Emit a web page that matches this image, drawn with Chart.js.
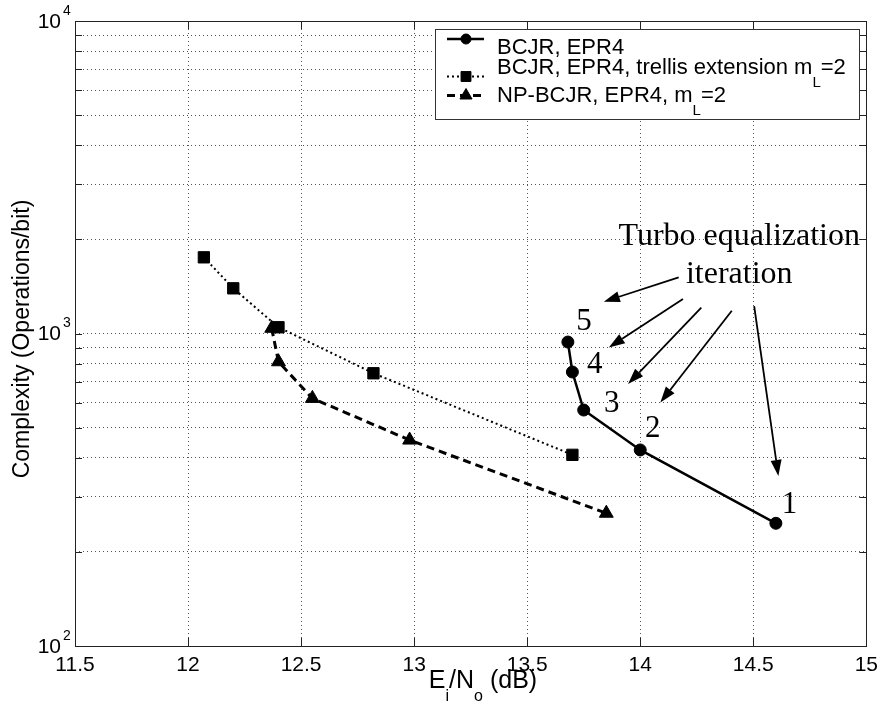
<!DOCTYPE html>
<html><head><meta charset="utf-8">
<script src="https://cdn.jsdelivr.net/npm/chart.js@4.4.1/dist/chart.umd.min.js"></script>
<style>html,body{margin:0;padding:0;background:#fff}#wrap{width:885px;height:712px}</style>
</head><body><div id="wrap"><canvas id="c" width="885" height="712"></canvas></div>
<script>
// ---- data ----
const bcjrX = [14.60, 14.00, 13.75, 13.70, 13.68];
const bcjrY = [247, 424, 569, 753, 939];
const trellisX = [12.07, 12.20, 12.40, 12.82, 13.70];
const trellisY = [1753, 1395, 1047, 746, 409];
const npX = [12.37, 12.40, 12.55, 12.98, 13.85];
const npY = [1039, 812, 620, 456, 266];
const seriesLabels = ['BCJR, EPR4', 'BCJR, EPR4, trellis extension m_L=2', 'NP-BCJR, EPR4, m_L=2'];
const xTicks = [11.5, 12, 12.5, 13, 13.5, 14, 14.5, 15];
const yTicks = [100,200,300,400,500,600,700,800,900,1000,2000,3000,4000,5000,6000,7000,8000,9000,10000];
const yLabelValues = [100, 1000, 10000];
const yLabelExps = ['2', '3', '4'];
const xTitleParts = ['E', '_i', '/N', '_o', ' (dB)'];
const yTitle = 'Complexity (Operations/bit)';
// annotations (data coordinates)
const noteLines = ['Turbo equalization', 'iteration'];
const noteX = [14.438, 14.438];
const noteY = [1920, 1451];
const iterLabels = ['1', '2', '3', '4', '5'];
const iterLabelX = [14.66, 14.055, 13.874, 13.799, 13.751];
const iterLabelY = [267, 468, 562, 747, 1026];
const arrowFromX = [14.170, 14.189, 14.270, 14.405, 14.504];
const arrowFromY = [1513, 1289, 1209, 1183, 1224];
const arrowToX = [13.839, 13.861, 13.946, 14.089, 14.611];
const arrowToY = [1264, 902, 689, 601, 350];

const SANS = '"Liberation Sans", Arial, Helvetica, sans-serif';
const SERIF = '"Liberation Serif", "Times New Roman", serif';

function pts(xs, ys) { return xs.map((x, i) => ({x: x, y: ys[i]})); }

function drawRich(ctx, parts, x, y, size, subSize, subDrop, align) {
  let w = 0;
  const items = parts.map(p => {
    const sub = p.startsWith('_');
    const t = sub ? p.slice(1) : p;
    ctx.font = (sub ? subSize : size) + 'px ' + SANS;
    const mw = ctx.measureText(t).width;
    w += mw;
    return {t, sub, mw};
  });
  let cx = align === 'center' ? x - w / 2 : x;
  ctx.textAlign = 'left';
  ctx.textBaseline = 'alphabetic';
  items.forEach(it => {
    ctx.font = (it.sub ? subSize : size) + 'px ' + SANS;
    ctx.fillText(it.t, cx, it.sub ? y + subDrop : y);
    cx += it.mw;
  });
}

function splitLabel(label) {
  const out = [];
  const re = /_(.)/g;
  let last = 0, m;
  while ((m = re.exec(label)) !== null) {
    if (m.index > last) out.push(label.slice(last, m.index));
    out.push('_' + m[1]);
    last = m.index + 2;
  }
  if (last < label.length) out.push(label.slice(last));
  return out;
}

const framePlugin = {
  id: 'frame',
  afterDraw(chart) {
    const {ctx, chartArea: a, scales: {x, y}} = chart;
    ctx.save();
    ctx.strokeStyle = '#222';
    ctx.lineWidth = 1;
    ctx.setLineDash([]);
    ctx.strokeRect(Math.round(a.left) + 0.5, Math.round(a.top) + 0.5, Math.round(a.right - a.left), Math.round(a.bottom - a.top));
    ctx.beginPath();
    x.ticks.forEach(t => {
      const px = Math.round(x.getPixelForValue(t.value)) + 0.5;
      ctx.moveTo(px, a.bottom); ctx.lineTo(px, a.bottom - 8);
      ctx.moveTo(px, a.top); ctx.lineTo(px, a.top + 8);
    });
    y.ticks.forEach(t => {
      const py = Math.round(y.getPixelForValue(t.value)) + 0.5;
      ctx.moveTo(a.left, py); ctx.lineTo(a.left + 7, py);
      ctx.moveTo(a.right, py); ctx.lineTo(a.right - 7, py);
    });
    ctx.stroke();
    ctx.fillStyle = '#000';
    yLabelValues.forEach((v, i) => {
      const py = y.getPixelForValue(v);
      ctx.font = '21px ' + SANS;
      ctx.textAlign = 'right';
      ctx.textBaseline = 'middle';
      ctx.fillText('10', a.left - 14, py + 1);
      ctx.font = '14px ' + SANS;
      ctx.textAlign = 'left';
      ctx.fillText(yLabelExps[i], a.left - 12, py - 10);
    });
    drawRich(ctx, xTitleParts, 483, 688, 25, 16, 13, 'center');
    ctx.save();
    ctx.translate(23, 339);
    ctx.rotate(-Math.PI / 2);
    ctx.font = '23px ' + SANS;
    ctx.textAlign = 'center';
    ctx.textBaseline = 'middle';
    ctx.fillText(yTitle, 0, 0);
    ctx.restore();

    // annotations
    ctx.fillStyle = '#000';
    ctx.textAlign = 'center';
    ctx.textBaseline = 'alphabetic';
    ctx.font = '32px ' + SERIF;
    noteLines.forEach((t, i) => ctx.fillText(t, x.getPixelForValue(noteX[i]), y.getPixelForValue(noteY[i])));
    ctx.font = '31px ' + SERIF;
    iterLabels.forEach((t, i) => ctx.fillText(t, x.getPixelForValue(iterLabelX[i]), y.getPixelForValue(iterLabelY[i])));
    ctx.strokeStyle = '#000';
    ctx.lineWidth = 1.8;
    arrowFromX.forEach((fx, i) => {
      const x1 = x.getPixelForValue(fx), y1 = y.getPixelForValue(arrowFromY[i]);
      const x2 = x.getPixelForValue(arrowToX[i]), y2 = y.getPixelForValue(arrowToY[i]);
      const ang = Math.atan2(y2 - y1, x2 - x1);
      const hl = 16, hw = 5.5;
      const bx = x2 - hl * Math.cos(ang), by = y2 - hl * Math.sin(ang);
      ctx.beginPath(); ctx.moveTo(x1, y1); ctx.lineTo(bx, by); ctx.stroke();
      ctx.beginPath();
      ctx.moveTo(x2, y2);
      ctx.lineTo(bx + hw * Math.sin(ang), by - hw * Math.cos(ang));
      ctx.lineTo(bx - hw * Math.sin(ang), by + hw * Math.cos(ang));
      ctx.closePath(); ctx.fill();
    });

    // legend
    const L = {x0: 435, y0: 29, x1: 859, y1: 119};
    ctx.fillStyle = '#fff';
    ctx.fillRect(L.x0, L.y0, L.x1 - L.x0, L.y1 - L.y0);
    ctx.strokeStyle = '#333';
    ctx.lineWidth = 1;
    ctx.strokeRect(L.x0 + 0.5, L.y0 + 0.5, L.x1 - L.x0, L.y1 - L.y0);
    const sampleY = [39, 76.5, 95.5];
    const textBase = [53.5, 73.5, 101.5];
    chart.data.datasets.forEach((ds, i) => {
      const sy = sampleY[i];
      ctx.save();
      ctx.strokeStyle = '#000';
      ctx.lineWidth = ds.borderWidth;
      ctx.setLineDash(ds.borderDash || []);
      ctx.beginPath(); ctx.moveTo(447, sy); ctx.lineTo(484, sy); ctx.stroke();
      ctx.restore();
      ctx.fillStyle = '#000';
      ctx.strokeStyle = '#000';
      ctx.lineWidth = 1;
      ctx.setLineDash([]);
      Chart.helpers.drawPoint(ctx, {pointStyle: ds.pointStyle, radius: ds.pointRadius - 1, borderWidth: 1, rotation: 0}, 466, sy);
      ctx.fillStyle = '#000';
      drawRich(ctx, splitLabel(ds.label), 497, textBase[i], 22, 15, 13, 'left');
    });
    ctx.restore();
  }
};

const lineDefaults = {
  showLine: true, borderColor: '#000', backgroundColor: '#000',
  pointBackgroundColor: '#000', pointBorderColor: '#000', pointBorderWidth: 1, fill: false, tension: 0
};

new Chart(document.getElementById('c'), {
  type: 'scatter',
  data: {
    datasets: [
      Object.assign({}, lineDefaults, {label: seriesLabels[0], data: pts(bcjrX, bcjrY), borderWidth: 2.5, borderDash: [], pointStyle: 'circle', pointRadius: 6}),
      Object.assign({}, lineDefaults, {label: seriesLabels[1], data: pts(trellisX, trellisY), borderWidth: 2, borderDash: [2, 3], pointStyle: 'rect', pointRadius: 8}),
      Object.assign({}, lineDefaults, {label: seriesLabels[2], data: pts(npX, npY), borderWidth: 3, borderDash: [8, 5], pointStyle: 'triangle', pointRadius: 8})
    ]
  },
  options: {
    responsive: false,
    animation: false,
    layout: {padding: {top: 21, right: 17, left: 0, bottom: 0}},
    plugins: {legend: {display: false}, tooltip: {enabled: false}},
    scales: {
      x: {
        type: 'linear', min: 11.5, max: 15,
        afterBuildTicks: s => { s.ticks = xTicks.map(v => ({value: v})); },
        afterFit: s => { s.height = 66; },
        ticks: {color: '#000', font: {family: SANS, size: 21}, padding: 7, maxRotation: 0, autoSkip: false,
                callback: v => String(v)},
        grid: {color: '#555', lineWidth: 1, drawTicks: false},
        border: {display: false, dash: [1, 3]}
      },
      y: {
        type: 'logarithmic', min: 100, max: 10000,
        afterBuildTicks: s => { s.ticks = yTicks.map(v => ({value: v})); },
        afterFit: s => { s.width = 75; },
        ticks: {display: false},
        grid: {color: '#555', lineWidth: 1, drawTicks: false},
        border: {display: false, dash: [1, 3]}
      }
    }
  },
  plugins: [framePlugin]
});
</script>
</body></html>
